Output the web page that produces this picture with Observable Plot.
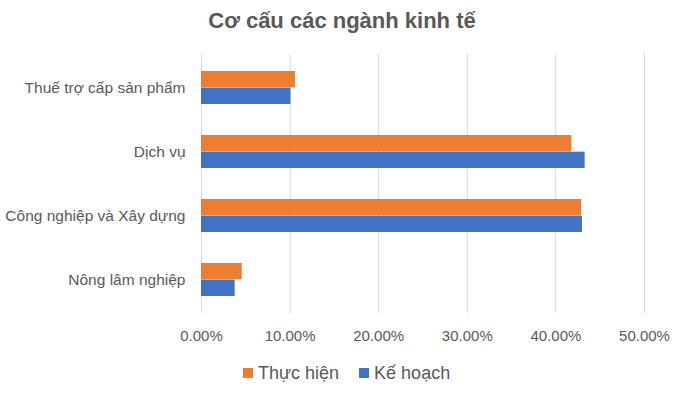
<!DOCTYPE html>
<html>
<head>
<meta charset="utf-8">
<script src="https://cdn.jsdelivr.net/npm/d3@7"></script>
<script src="https://cdn.jsdelivr.net/npm/@observablehq/plot@0.6"></script>
<style>
  html, body { margin: 0; padding: 0; background: #fff; }
  #wrap { position: relative; width: 684px; height: 393px; font-family: "Liberation Sans", Arial, sans-serif; color: #595959; }
  #title { position: absolute; left: 0; width: 684px; top: 6px; text-align: center; font-weight: bold; font-size: 22px; line-height: 30px; }
  #legend { position: absolute; top: 362px; left: 243px; font-size: 18px; line-height: 22px; display: flex; align-items: center; }
  .sw { display: inline-block; width: 10px; height: 10px; margin-right: 5px; }
  .item { display: flex; align-items: center; margin-right: 20px; }
  #chart { position: absolute; left: 0; top: 0; }
</style>
</head>
<body>
<div id="wrap">
  <div id="chart"></div>
  <div id="title"></div>
  <div id="legend"></div>
</div>
<script>
const titleText = "Cơ cấu các ngành kinh tế";
const categories = ["Thuế trợ cấp sản phẩm", "Dịch vụ", "Công nghiệp và Xây dựng", "Nông lâm nghiệp"];
const seriesNames = ["Thực hiện", "Kế hoạch"];
const seriesColors = ["#ED7D31", "#4472C4"];
const thucHien = [0.106, 0.418, 0.429, 0.046];
const keHoach = [0.101, 0.433, 0.430, 0.038];
const xTicks = [0, 0.1, 0.2, 0.3, 0.4, 0.5];

const data = categories.map((c, i) => ({cat: c, thuc: thucHien[i], ke: keHoach[i]}));

const half = 16.65;
const chart = Plot.plot({
  width: 684,
  height: 393,
  marginTop: 54,
  marginBottom: 80,
  marginLeft: 201,
  marginRight: 40,
  style: {fontFamily: "Liberation Sans, Arial, sans-serif", fontSize: "15px", color: "#595959", background: "transparent"},
  x: {domain: [0, 0.5], ticks: xTicks, tickFormat: d3.format(".2%"), tickSize: 0, tickPadding: 17, label: null},
  y: {domain: categories, paddingInner: 0.485, paddingOuter: 0.2425, tickSize: 0, tickPadding: 16, label: null},
  marks: [
    Plot.ruleX(xTicks, {stroke: "#d9d9d9", strokeWidth: 1}),
    Plot.barX(data, {x: "thuc", y: "cat", fill: seriesColors[0], insetBottom: half}),
    Plot.barX(data, {x: "ke", y: "cat", fill: seriesColors[1], insetTop: half})
  ]
});
chart.querySelectorAll("g[aria-label='y-axis tick label'] text, g[aria-label='y-axis'] text").forEach(t => t.style.fontSize = "15.5px");
document.getElementById("chart").appendChild(chart);
document.getElementById("title").textContent = titleText;
const legend = document.getElementById("legend");
seriesNames.forEach((n, i) => {
  const it = document.createElement("span");
  it.className = "item";
  const sw = document.createElement("span");
  sw.className = "sw";
  sw.style.background = seriesColors[i];
  it.appendChild(sw);
  it.appendChild(document.createTextNode(n));
  legend.appendChild(it);
});
</script>
</body>
</html>
